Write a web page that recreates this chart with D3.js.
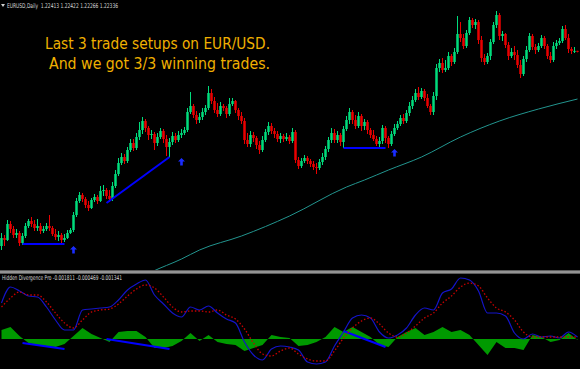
<!doctype html>
<html>
<head>
    <meta charset="utf-8">
    <title>EURUSD Daily - hidden divergence setups</title>
    <script src="https://d3js.org/d3.v7.min.js"></script>
    <style>
      body { margin:0; background:#000; }
      svg { display:block; }
    </style>
</head>
<body>
    <script>
    var width = 580, height = 369;

    // EURUSD daily bars, open of each bar = previous close
    var firstOpen = 1.029;
    var closes = [
      1.037,1.035,1.051,1.046,1.040,1.042,1.032,1.039,1.049,1.054,
      1.051,1.047,1.049,1.044,1.046,1.049,1.047,1.041,1.038,1.040,
      1.035,1.037,1.042,1.045,1.060,1.074,1.080,1.076,1.070,1.067,
      1.075,1.078,1.074,1.084,1.085,1.079,1.076,1.089,1.101,1.112,
      1.118,1.114,1.125,1.132,1.127,1.138,1.145,1.154,1.147,1.140,
      1.141,1.132,1.138,1.144,1.136,1.128,1.133,1.139,1.135,1.140,
      1.142,1.145,1.163,1.169,1.160,1.155,1.158,1.163,1.167,1.182,
      1.174,1.165,1.161,1.169,1.167,1.161,1.171,1.174,1.165,1.159,
      1.154,1.135,1.131,1.140,1.137,1.130,1.125,1.135,1.143,1.149,
      1.144,1.141,1.136,1.139,1.136,1.138,1.134,1.143,1.115,1.109,
      1.114,1.117,1.114,1.111,1.108,1.107,1.113,1.118,1.126,1.135,
      1.142,1.135,1.140,1.133,1.146,1.155,1.163,1.155,1.149,1.159,
      1.149,1.153,1.145,1.140,1.136,1.131,1.134,1.147,1.137,1.131,
      1.141,1.147,1.151,1.157,1.154,1.162,1.169,1.175,1.182,1.178,
      1.184,1.177,1.169,1.163,1.179,1.207,1.212,1.205,1.207,1.219,
      1.213,1.223,1.241,1.237,1.229,1.242,1.255,1.250,1.253,1.235,
      1.217,1.213,1.219,1.233,1.250,1.260,1.239,1.241,1.230,1.219,
      1.223,1.220,1.210,1.201,1.216,1.225,1.239,1.228,1.225,1.229,
      1.237,1.229,1.219,1.215,1.229,1.232,1.234,1.246,1.237,1.226,
      1.224,1.22413,1.22336];
    var highs = [
      1.042,1.040,1.055,1.054,1.049,1.046,1.044,1.042,1.052,1.056,
      1.058,1.055,1.056,1.052,1.049,1.052,1.060,1.049,1.046,1.044,
      1.042,1.041,1.045,1.047,1.063,1.077,1.083,1.082,1.078,1.074,
      1.077,1.081,1.080,1.089,1.090,1.087,1.085,1.093,1.105,1.117,
      1.122,1.121,1.128,1.136,1.136,1.142,1.153,1.158,1.156,1.149,
      1.145,1.143,1.142,1.147,1.146,1.140,1.137,1.143,1.142,1.144,
      1.146,1.148,1.167,1.183,1.171,1.164,1.162,1.167,1.170,1.189,
      1.186,1.178,1.172,1.173,1.171,1.169,1.177,1.177,1.175,1.167,
      1.163,1.157,1.142,1.144,1.143,1.139,1.134,1.139,1.146,1.153,
      1.152,1.147,1.144,1.142,1.141,1.142,1.140,1.147,1.145,1.118,
      1.117,1.120,1.119,1.116,1.114,1.112,1.116,1.122,1.129,1.138,
      1.147,1.146,1.144,1.142,1.149,1.159,1.167,1.165,1.160,1.163,
      1.161,1.156,1.155,1.147,1.145,1.139,1.138,1.150,1.149,1.139,
      1.144,1.151,1.154,1.160,1.161,1.165,1.173,1.179,1.186,1.188,
      1.187,1.186,1.181,1.171,1.183,1.211,1.216,1.217,1.215,1.223,
      1.221,1.227,1.259,1.253,1.241,1.245,1.258,1.257,1.256,1.255,
      1.239,1.221,1.222,1.236,1.253,1.264,1.262,1.244,1.242,1.233,
      1.227,1.229,1.225,1.215,1.219,1.229,1.242,1.241,1.231,1.232,
      1.240,1.239,1.231,1.223,1.233,1.235,1.237,1.249,1.250,1.241,
      1.228,1.228,1.22422];
    var lows = [
      1.025,1.029,1.034,1.042,1.037,1.037,1.029,1.030,1.037,1.047,
      1.048,1.044,1.044,1.041,1.042,1.044,1.044,1.039,1.035,1.034,
      1.032,1.033,1.036,1.041,1.043,1.058,1.072,1.073,1.067,1.064,
      1.066,1.073,1.071,1.073,1.079,1.076,1.073,1.074,1.087,1.099,
      1.110,1.111,1.112,1.123,1.124,1.125,1.135,1.141,1.143,1.135,
      1.136,1.125,1.129,1.136,1.132,1.119,1.118,1.130,1.132,1.133,
      1.137,1.140,1.143,1.161,1.157,1.151,1.152,1.155,1.160,1.165,
      1.171,1.162,1.158,1.159,1.164,1.157,1.159,1.169,1.162,1.155,
      1.151,1.131,1.128,1.128,1.133,1.126,1.121,1.123,1.133,1.140,
      1.141,1.137,1.133,1.132,1.133,1.134,1.131,1.132,1.112,1.106,
      1.107,1.112,1.111,1.108,1.105,1.101,1.105,1.110,1.115,1.123,
      1.132,1.132,1.132,1.129,1.127,1.144,1.151,1.151,1.146,1.147,
      1.144,1.145,1.141,1.137,1.134,1.129,1.128,1.131,1.132,1.127,
      1.129,1.139,1.145,1.149,1.151,1.152,1.159,1.166,1.173,1.175,
      1.176,1.174,1.167,1.160,1.160,1.175,1.203,1.202,1.203,1.205,
      1.209,1.211,1.221,1.233,1.226,1.227,1.240,1.247,1.246,1.231,
      1.213,1.210,1.211,1.215,1.231,1.247,1.235,1.234,1.227,1.215,
      1.217,1.215,1.207,1.197,1.199,1.213,1.223,1.225,1.221,1.223,
      1.227,1.226,1.216,1.212,1.213,1.226,1.230,1.232,1.235,1.222,
      1.221,1.222,1.22266];

    // moving average, read at a few bars where it is on screen
    var maIdx = [48, 50, 60, 66, 80, 96, 115, 121, 129, 140, 153, 166, 179, 192];
    var maVal = [1.000, 1.003, 1.016, 1.025, 1.039, 1.059, 1.088, 1.095, 1.105, 1.118, 1.138, 1.154, 1.166, 1.176];

    // Hidden Divergence Pro, one reading every 3 bars
    var indStep = 3;
    var divMain = [
      0.0072,0.0104,0.0096,0.0086,0.0084,0.0064,0.0038,0.0018,0.0018,0.0058,
      0.0060,0.0062,0.0064,0.0078,0.0098,0.0110,0.0118,0.0088,0.0070,0.0052,
      0.0044,0.0064,0.0058,0.0066,0.0052,0.0040,0.0032,-0.0006,-0.0032,-0.0042,
      -0.0020,-0.0014,-0.0016,-0.0022,-0.0046,-0.0050,-0.0046,-0.0014,0.0014,0.0042,
      0.0048,0.0042,0.0014,0.0002,0.0008,0.0022,0.0048,0.0062,0.0058,0.0092,
      0.0100,0.0122,0.0118,0.0096,0.0052,0.0052,0.0046,0.0012,0.0000,0.0010,
      0.0004,0.0006,0.0002,0.0014,0.0004];
    var divSignal = [
      0.0064,0.0082,0.0094,0.0088,0.0088,0.0074,0.0052,0.0032,0.0022,0.0038,
      0.0054,0.0058,0.0060,0.0070,0.0086,0.0100,0.0108,0.0102,0.0084,0.0064,
      0.0054,0.0056,0.0056,0.0054,0.0058,0.0048,0.0040,0.0020,-0.0008,-0.0030,
      -0.0034,-0.0024,-0.0018,-0.0030,-0.0040,-0.0044,-0.0044,-0.0024,0.0002,0.0022,
      0.0036,0.0042,0.0030,0.0012,0.0004,0.0012,0.0026,0.0042,0.0052,0.0072,
      0.0086,0.0104,0.0112,0.0106,0.0082,0.0062,0.0054,0.0038,0.0014,0.0004,
      0.0004,0.0004,0.0004,0.0004,0.0004];
    var divHist = [
      0.0018,0.0024,0.0006,-0.0008,-0.0012,-0.0014,-0.0016,-0.0010,0.0006,0.0022,
      0.0010,0.0002,-0.0006,0.0014,0.0016,0.0016,0.0004,-0.0018,-0.0018,-0.0014,
      -0.0004,0.0012,-0.0004,0.0008,-0.0006,-0.0010,-0.0012,-0.0024,-0.0018,-0.0012,
      0.0008,0.0004,0.0002,-0.0014,-0.0012,-0.0006,0.0004,0.0024,0.0014,0.0024,
      0.0014,0.0004,-0.0012,-0.0016,0.0004,0.0014,0.0022,0.0008,0.0014,0.0024,
      0.0014,0.0018,0.0008,-0.0012,-0.0032,-0.0006,-0.0018,-0.0018,-0.0022,0.0008,
      0.0004,-0.0006,-0.0002,0.0012,-0.0002];

    // the three setups
    var setupFrom = [7, 35, 114];
    var setupTo = [21, 56, 128];
    var setupPriceFrom = [1.031, 1.072, 1.127];
    var setupPriceTo = [1.031, 1.118, 1.127];
    var setupHistFrom = [-0.0008, 0.0000, 0.0016];
    var setupHistTo = [-0.0020, -0.0020, -0.0016];
    var arrowIdx = [24, 60, 131];
    var arrowPrice = [1.029, 1.117, 1.126];

    var headerText = "EURUSD,Daily  1.22413 1.22422 1.22266 1.22336";
    var indLabel = "Hidden Divergence Pro -0.001811 -0.000469 -0.001341";
    var titleLines = ["Last 3 trade setups on EUR/USD.", "And we got 3/3 winning trades."];

    var bull = "#00dc7c", bear = "#ea0000";

    var svg = d3.select("body").append("svg")
                .attr("width", width)
                .attr("height", height)
                .style("background", "#000");

    var x = d3.scaleLinear().domain([0, closes.length - 1]).range([1.5, 577.5]);
    var y = d3.scaleLinear().domain([1.275, 1.005]).range([0, 270]);
    var yi = d3.scaleLinear().domain([0.013, -0.006]).range([274, 369]);

    var defs = svg.append("defs");
    defs.append("clipPath").attr("id", "mainClip")
        .append("rect").attr("x", 0).attr("y", 0).attr("width", width).attr("height", 270);
    defs.append("clipPath").attr("id", "indClip")
        .append("rect").attr("x", 0).attr("y", 274).attr("width", width).attr("height", 95);

    var main = svg.append("g").attr("clip-path", "url(#mainClip)");

    // moving average
    main.append("path")
        .datum(maIdx.map(function(d, k){ return [d, maVal[k]]; }))
        .attr("fill", "none")
        .attr("stroke", "#22948e")
        .attr("stroke-width", 1)
        .attr("d", d3.line()
          .x(function(d){ return x(d[0]); })
          .y(function(d){ return y(d[1]); })
          .curve(d3.curveMonotoneX));

    // candles
    var candles = closes.map(function(c, i){
      return { i: i, o: i ? closes[i-1] : firstOpen, c: c, h: highs[i], l: lows[i] };
    });

    var bars = main.selectAll("g.bar").data(candles).enter().append("g").attr("class", "bar");
    bars.append("rect")
        .attr("x", function(d){ return x(d.i) - 0.5; })
        .attr("width", 1)
        .attr("y", function(d){ return y(Math.max(d.h, d.o, d.c)); })
        .attr("height", function(d){ return y(Math.min(d.l, d.o, d.c)) - y(Math.max(d.h, d.o, d.c)); })
        .attr("fill", function(d){ return d.c >= d.o ? bull : bear; });
    bars.append("rect")
        .attr("x", function(d){ return x(d.i) - 1.25; })
        .attr("width", 2.5)
        .attr("y", function(d){ return y(Math.max(d.o, d.c)); })
        .attr("height", function(d){ return Math.max(1, Math.abs(y(d.o) - y(d.c))); })
        .attr("fill", function(d){ return d.c >= d.o ? bull : bear; });

    // setup lines on price
    setupFrom.forEach(function(s, k){
      main.append("line")
          .attr("x1", x(s)).attr("y1", y(setupPriceFrom[k]))
          .attr("x2", x(setupTo[k])).attr("y2", y(setupPriceTo[k]))
          .attr("stroke", "#0000ff").attr("stroke-width", 2);
    });

    // arrows
    arrowIdx.forEach(function(a, k){
      main.append("path")
          .attr("transform", "translate(" + x(a) + "," + y(arrowPrice[k]) + ")")
          .attr("d", "M0,0 L3.5,3.5 L1.3,3.5 L1.3,7.5 L-1.3,7.5 L-1.3,3.5 L-3.5,3.5 Z")
          .attr("fill", "#1a2cff");
    });

    // header
    svg.append("path").attr("d", "M1,4 L5,4 L3,7 Z").attr("fill", "#cfcfcf");
    svg.append("text").attr("x", 7).attr("y", 8)
       .attr("font-family", "DejaVu Sans, sans-serif").attr("font-size", 6.5)
       .attr("fill", "#d8d8d8")
       .attr("textLength", 111).attr("lengthAdjust", "spacingAndGlyphs")
       .attr("xml:space", "preserve")
       .text(headerText);

    // title
    var titleX = [45, 49], titleY = [49, 69], titleW = [225, 221];
    titleLines.forEach(function(t, k){
      svg.append("text").attr("x", titleX[k]).attr("y", titleY[k])
         .attr("font-family", "DejaVu Sans, sans-serif").attr("font-size", 15)
         .attr("fill", "#f0b000")
         .attr("textLength", titleW[k]).attr("lengthAdjust", "spacingAndGlyphs")
         .text(t);
    });

    // separator between panes
    svg.append("rect").attr("x", 0).attr("y", 270.5).attr("width", width).attr("height", 3)
       .attr("fill", "#b8b8b8");
    svg.append("rect").attr("x", 0).attr("y", 271.5).attr("width", width).attr("height", 1)
       .attr("fill", "#707070");

    // indicator pane
    var ind = svg.append("g").attr("clip-path", "url(#indClip)");
    var sx = function(k){ return x(k * indStep); };

    ind.append("path")
       .datum(divHist)
       .attr("fill", "#009a00")
       .attr("d", d3.area()
         .x(function(d, k){ return sx(k); })
         .y0(yi(0))
         .y1(function(d){ return yi(d); }));

    setupFrom.forEach(function(s, k){
      ind.append("line")
         .attr("x1", x(s)).attr("y1", yi(setupHistFrom[k]))
         .attr("x2", x(setupTo[k])).attr("y2", yi(setupHistTo[k]))
         .attr("stroke", "#0000ff").attr("stroke-width", 2);
    });

    ind.append("path")
       .datum(divMain)
       .attr("fill", "none")
       .attr("stroke", "#1414c8")
       .attr("stroke-width", 1.2)
       .attr("d", d3.line().x(function(d, k){ return sx(k); }).y(function(d){ return yi(d); })
         .curve(d3.curveMonotoneX));

    ind.append("path")
       .datum(divSignal)
       .attr("fill", "none")
       .attr("stroke", "#c80000")
       .attr("stroke-width", 1.3)
       .attr("stroke-dasharray", "1.5,2")
       .attr("d", d3.line().x(function(d, k){ return sx(k); }).y(function(d){ return yi(d); })
         .curve(d3.curveMonotoneX));

    svg.append("text").attr("x", 2).attr("y", 279.5)
       .attr("font-family", "DejaVu Sans, sans-serif").attr("font-size", 6.5)
       .attr("fill", "#d8d8d8")
       .attr("textLength", 120).attr("lengthAdjust", "spacingAndGlyphs")
       .text(indLabel);
    </script>
</body>
</html>
